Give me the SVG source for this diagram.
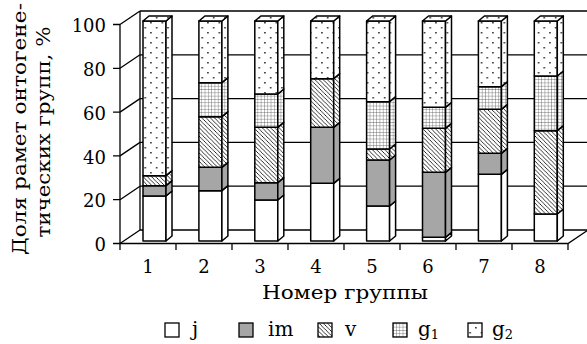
<svg xmlns="http://www.w3.org/2000/svg" width="587" height="344" viewBox="0 0 587 344">
<style>
.ln{stroke:#000;stroke-width:1.3;fill:none}
.bar{stroke:#000;stroke-width:1.5;stroke-linejoin:round}
.t{font-family:"DejaVu Serif","Liberation Serif",serif;fill:#000}
.tick{font-size:18px;text-anchor:end}
.xl{font-size:18px;text-anchor:middle}
.j{fill:#fff}
.im{fill:#a6a6a6}
.v{fill:url(#hatch)}
.g1{fill:url(#grid)}
.g2{fill:url(#dots)}
</style>
<defs>
<pattern id="hatch" patternUnits="userSpaceOnUse" width="4.2" height="4.2">
<rect width="4.2" height="4.2" fill="#fff"/>
<path d="M-1,-1 L5.2,5.2 M-1,3.2 L1,5.2 M3.2,-1 L5.2,1" stroke="#000" stroke-width="0.8"/>
</pattern>
<pattern id="grid" patternUnits="userSpaceOnUse" width="3.3" height="3.3">
<rect width="3.3" height="3.3" fill="#fff"/>
<path d="M0,0 V3.3 M0,0 H3.3" stroke="#444" stroke-width="0.7"/>
</pattern>
<pattern id="dots" patternUnits="userSpaceOnUse" width="11.4" height="10">
<rect width="11.4" height="10" fill="#fff"/>
<rect x="2" y="2" width="1.5" height="1.5" fill="#222"/>
<rect x="7.7" y="7" width="1.5" height="1.5" fill="#222"/>
</pattern>
</defs>

<g id="frame">
<path class="ln" d="M140,11 H587 M140,54.8 H587 M140,98.6 H587 M140,142.4 H587 M140,186.2 H587 M140,230 H588 M140,11 V230"/>
<path class="ln" d="M120,24.5 L140,11 M120,68.3 L140,54.8 M120,112.1 L140,98.6 M120,155.9 L140,142.4 M120,199.7 L140,186.2 M120,243.5 L140,230"/>
<path class="ln" d="M120,243.5 H568 L588,230"/>
<path class="ln" d="M120,24.5 V250 M113,24.5 H120 M113,68.3 H120 M113,112.1 H120 M113,155.9 H120 M113,199.7 H120 M113,243.5 H120"/>
<path class="ln" d="M176,243.5 V250 M232,243.5 V250 M288,243.5 V250 M344,243.5 V250 M400,243.5 V250 M456,243.5 V250 M512,243.5 V250 M568,243.5 V250"/>
</g>

<g id="yticks" class="t tick">
<text x="106" y="32">100</text>
<text x="106" y="76">80</text>
<text x="106" y="120">60</text>
<text x="106" y="164">40</text>
<text x="106" y="207">20</text>
<text x="106" y="251">0</text>
</g>

<g id="ylabel" class="t" font-size="19">
<text transform="rotate(-90)" x="-129" y="26" text-anchor="middle" textLength="252" lengthAdjust="spacingAndGlyphs">Доля рамет онтогене-</text>
<text transform="rotate(-90)" x="-132" y="50" text-anchor="middle" textLength="211" lengthAdjust="spacingAndGlyphs">тических групп, %</text>
</g>

<g id="bar1" class="bar">
<rect class="j" x="143" y="196" width="23" height="45"/><polygon class="j" points="166,241 166,196 172,191 172,236"/>
<rect class="im" x="143" y="185.7" width="23" height="10.3"/><polygon class="im" points="166,196 166,185.7 172,180.7 172,191"/>
<rect class="v" x="143" y="175.7" width="23" height="10"/><polygon class="v" points="166,185.7 166,175.7 172,170.7 172,180.7"/>
<rect class="g2" x="143" y="21" width="23" height="154.7"/><polygon class="g2" points="166,175.7 166,21 172,16 172,170.7"/>
<polygon class="g2" points="143,21 149,16 172,16 166,21"/>
</g>

<g id="bar2" class="bar">
<rect class="j" x="198.9" y="190.7" width="23" height="50.3"/><polygon class="j" points="221.9,241 221.9,190.7 227.9,185.7 227.9,236"/>
<rect class="im" x="198.9" y="167.3" width="23" height="23.4"/><polygon class="im" points="221.9,190.7 221.9,167.3 227.9,162.3 227.9,185.7"/>
<rect class="v" x="198.9" y="116.7" width="23" height="50.6"/><polygon class="v" points="221.9,167.3 221.9,116.7 227.9,111.7 227.9,162.3"/>
<rect class="g1" x="198.9" y="82.7" width="23" height="34"/><polygon class="g1" points="221.9,116.7 221.9,82.7 227.9,77.7 227.9,111.7"/>
<rect class="g2" x="198.9" y="21" width="23" height="61.7"/><polygon class="g2" points="221.9,82.7 221.9,21 227.9,16 227.9,77.7"/>
<polygon class="g2" points="198.9,21 204.9,16 227.9,16 221.9,21"/>
</g>

<g id="bar3" class="bar">
<rect class="j" x="254.8" y="200" width="23" height="41"/><polygon class="j" points="277.8,241 277.8,200 283.8,195 283.8,236"/>
<rect class="im" x="254.8" y="182.7" width="23" height="17.3"/><polygon class="im" points="277.8,200 277.8,182.7 283.8,177.7 283.8,195"/>
<rect class="v" x="254.8" y="127.3" width="23" height="55.4"/><polygon class="v" points="277.8,182.7 277.8,127.3 283.8,122.3 283.8,177.7"/>
<rect class="g1" x="254.8" y="94" width="23" height="33.3"/><polygon class="g1" points="277.8,127.3 277.8,94 283.8,89 283.8,122.3"/>
<rect class="g2" x="254.8" y="21" width="23" height="73"/><polygon class="g2" points="277.8,94 277.8,21 283.8,16 283.8,89"/>
<polygon class="g2" points="254.8,21 260.8,16 283.8,16 277.8,21"/>
</g>

<g id="bar4" class="bar">
<rect class="j" x="310.7" y="183.3" width="23" height="57.7"/><polygon class="j" points="333.7,241 333.7,183.3 339.7,178.3 339.7,236"/>
<rect class="im" x="310.7" y="127.3" width="23" height="56"/><polygon class="im" points="333.7,183.3 333.7,127.3 339.7,122.3 339.7,178.3"/>
<rect class="v" x="310.7" y="78.7" width="23" height="48.6"/><polygon class="v" points="333.7,127.3 333.7,78.7 339.7,73.7 339.7,122.3"/>
<rect class="g2" x="310.7" y="21" width="23" height="57.7"/><polygon class="g2" points="333.7,78.7 333.7,21 339.7,16 339.7,73.7"/>
<polygon class="g2" points="310.7,21 316.7,16 339.7,16 333.7,21"/>
</g>

<g id="bar5" class="bar">
<rect class="j" x="366.6" y="206" width="23" height="35"/><polygon class="j" points="389.6,241 389.6,206 395.6,201 395.6,236"/>
<rect class="im" x="366.6" y="160" width="23" height="46"/><polygon class="im" points="389.6,206 389.6,160 395.6,155 395.6,201"/>
<rect class="v" x="366.6" y="149" width="23" height="11"/><polygon class="v" points="389.6,160 389.6,149 395.6,144 395.6,155"/>
<rect class="g1" x="366.6" y="101.7" width="23" height="47.3"/><polygon class="g1" points="389.6,149 389.6,101.7 395.6,96.7 395.6,144"/>
<rect class="g2" x="366.6" y="21" width="23" height="80.7"/><polygon class="g2" points="389.6,101.7 389.6,21 395.6,16 395.6,96.7"/>
<polygon class="g2" points="366.6,21 372.6,16 395.6,16 389.6,21"/>
</g>

<g id="bar6" class="bar">
<rect class="j" x="422.5" y="237.3" width="23" height="3.7"/><polygon class="j" points="445.5,241 445.5,237.3 451.5,232.3 451.5,236"/>
<rect class="im" x="422.5" y="172.3" width="23" height="65"/><polygon class="im" points="445.5,237.3 445.5,172.3 451.5,167.3 451.5,232.3"/>
<rect class="v" x="422.5" y="128.3" width="23" height="44"/><polygon class="v" points="445.5,172.3 445.5,128.3 451.5,123.3 451.5,167.3"/>
<rect class="g1" x="422.5" y="107.3" width="23" height="21"/><polygon class="g1" points="445.5,128.3 445.5,107.3 451.5,102.3 451.5,123.3"/>
<rect class="g2" x="422.5" y="21" width="23" height="86.3"/><polygon class="g2" points="445.5,107.3 445.5,21 451.5,16 451.5,102.3"/>
<polygon class="g2" points="422.5,21 428.5,16 451.5,16 445.5,21"/>
</g>

<g id="bar7" class="bar">
<rect class="j" x="478.4" y="174.3" width="23" height="66.7"/><polygon class="j" points="501.4,241 501.4,174.3 507.4,169.3 507.4,236"/>
<rect class="im" x="478.4" y="153.3" width="23" height="21"/><polygon class="im" points="501.4,174.3 501.4,153.3 507.4,148.3 507.4,169.3"/>
<rect class="v" x="478.4" y="109.3" width="23" height="44"/><polygon class="v" points="501.4,153.3 501.4,109.3 507.4,104.3 507.4,148.3"/>
<rect class="g1" x="478.4" y="86.7" width="23" height="22.6"/><polygon class="g1" points="501.4,109.3 501.4,86.7 507.4,81.7 507.4,104.3"/>
<rect class="g2" x="478.4" y="21" width="23" height="65.7"/><polygon class="g2" points="501.4,86.7 501.4,21 507.4,16 507.4,81.7"/>
<polygon class="g2" points="478.4,21 484.4,16 507.4,16 501.4,21"/>
</g>

<g id="bar8" class="bar">
<rect class="j" x="534.3" y="214" width="23" height="27"/><polygon class="j" points="557.3,241 557.3,214 563.3,209 563.3,236"/>
<rect class="v" x="534.3" y="130.7" width="23" height="83.3"/><polygon class="v" points="557.3,214 557.3,130.7 563.3,125.7 563.3,209"/>
<rect class="g1" x="534.3" y="76" width="23" height="54.7"/><polygon class="g1" points="557.3,130.7 557.3,76 563.3,71 563.3,125.7"/>
<rect class="g2" x="534.3" y="21" width="23" height="55"/><polygon class="g2" points="557.3,76 557.3,21 563.3,16 563.3,71"/>
<polygon class="g2" points="534.3,21 540.3,16 563.3,16 557.3,21"/>
</g>

<g id="xlabels" class="t xl">
<text x="148" y="273">1</text>
<text x="204" y="273">2</text>
<text x="260" y="273">3</text>
<text x="316" y="273">4</text>
<text x="372" y="273">5</text>
<text x="428" y="273">6</text>
<text x="484" y="273">7</text>
<text x="540" y="273">8</text>
</g>
<text id="xtitle" class="t" x="262" y="299" font-size="19" textLength="166" lengthAdjust="spacingAndGlyphs">Номер  группы</text>

<g id="legend" class="t" font-size="20">
<rect class="j" x="165" y="323" width="14" height="14" stroke="#000" stroke-width="1.3"/>
<text x="192" y="336">j</text>
<rect class="im" x="239" y="323" width="14" height="14" stroke="#000" stroke-width="1.3"/>
<text x="268" y="336">im</text>
<rect class="v" x="318" y="323" width="14" height="14" stroke="#000" stroke-width="1.3"/>
<text x="345" y="336">v</text>
<rect class="g1" x="393" y="323" width="14" height="14" stroke="#000" stroke-width="1.3"/>
<text x="418" y="336">g<tspan font-size="13" dy="3">1</tspan></text>
<rect class="g2" x="468" y="323" width="14" height="14" stroke="#000" stroke-width="1.3"/>
<text x="492" y="336">g<tspan font-size="13" dy="3">2</tspan></text>
</g>
</svg>
